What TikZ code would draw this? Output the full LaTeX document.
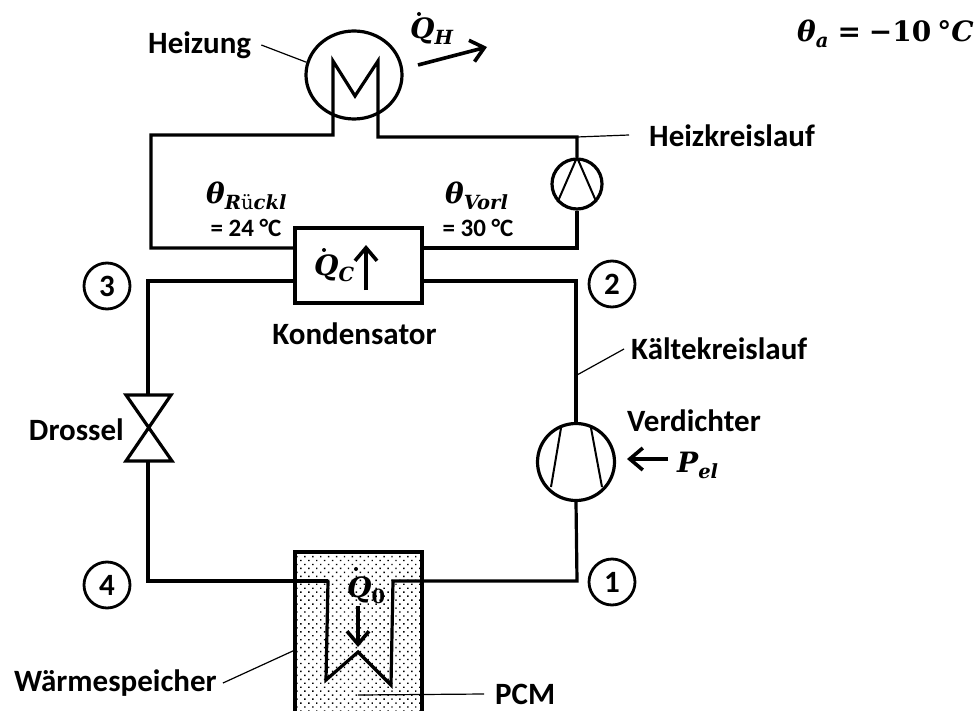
\documentclass[tikz,border=0pt]{standalone}
\usepackage{fontspec}
\setmainfont{Carlito}
\newfontfamily\mathfont{DejaVu Serif}
\usetikzlibrary{patterns.meta,arrows.meta,shapes.geometric}
\tikzset{
    pipe/.style={line width=3.2pt},
    leader/.style={line width=1.2pt},
    label/.style={font=\fontsize{31}{33}\selectfont\bfseries, inner sep=0pt},
    smalllabel/.style={font=\fontsize{25}{27}\selectfont\bfseries, inner sep=0pt},
    symbol/.style={font=\fontsize{28}{30}\selectfont\mathfont\bfseries\itshape, inner sep=0pt},
    statept/.style={circle, draw, line width=2.8pt, minimum size=46pt, inner sep=0pt, font=\fontsize{31}{33}\selectfont\bfseries},
    flow/.style={line width=3.6pt, -{Straight Barb[length=13pt,width=22pt,line width=3.6pt]}},
    dotmark/.style={fill=black}
}
\newcommand{\subtxt}[1]{\raisebox{-6pt}{\fontsize{19.5}{22}\selectfont #1}}
\begin{document}
\begin{tikzpicture}[x=1pt,y=-1pt]

    \useasboundingbox (0,0) rectangle (976,711);

    % speicher
    \path[pattern={Dots[radius=1pt,distance=5.6pt,angle=45]}] (295,552) rectangle (422,711);
    \coordinate (storeBL) at (295,711);
    \coordinate (storeBR) at (422,711);
    \draw[line width=4pt] (storeBL) |- (358,552) -| (storeBR);

    % nodes
    \node[ellipse, draw, pipe, minimum width=96pt, minimum height=88pt, inner sep=0pt] (heater) at (354,75) {};
    \node[circle, draw, pipe, minimum size=50pt, inner sep=0pt] (pump) at (577,184) {};
    \node[circle, draw, pipe, minimum size=77pt, inner sep=0pt] (compressor) at (576,462) {};
    \node[rectangle, draw, pipe, minimum width=127pt, minimum height=75pt, inner sep=0pt] (condenser) at (358.5,265.5) {};

    \coordinate (valveNW) at (126,395);
    \coordinate (valveNE) at (171,395);
    \coordinate (valveSW) at (126,461);
    \coordinate (valveSE) at (172,461);
    \coordinate (valveT) at (148,395);
    \coordinate (valveB) at (148,461);
    \draw[pipe, line join=miter] (valveNW) -- (valveNE) -- (valveSW) -- (valveSE) -- cycle;

    % heizkreis
    \coordinate (hotL) at (333,135);
    \coordinate (hotR) at (378,137);
    \coordinate (hotA) at (333,61);
    \coordinate (hotB) at (355,96);
    \coordinate (hotC) at (378,61);
    \coordinate (hotLL) at (151,135);
    \coordinate (condHL) at (295,248);
    \coordinate (condHR) at (422,248);
    \draw[pipe, line join=miter] (condHL) -| (hotLL) -- (hotL) -- (hotA) -- (hotB) -- (hotC) -- (hotR) -| (pump.north);
    \draw[pipe] (pump.south) |- (condHR);
    \draw[line width=2pt] (pump.223) -- (pump.north) -- (pump.317);

    % kaeltekreis
    \coordinate (condCL) at (295,281);
    \coordinate (condCR) at (422,281);
    \coordinate (coldL) at (328,581);
    \coordinate (coldA) at (326,680);
    \coordinate (coldB) at (358,652);
    \coordinate (coldC) at (391,685);
    \coordinate (coldR) at (393,581);
    \draw[pipe] (condCL) -| (valveT);
    \draw[pipe] (valveB) |- (coldL);
    \draw[pipe, line join=miter] (coldL) -- (coldA) -- (coldB) -- (coldC) -- (coldR) -- (577,581) -- (compressor.south);
    \draw[pipe] (condCR) -| (compressor.north);

    \draw[line width=2pt] (561,428) -- (551,487);
    \draw[line width=2pt] (591,428) -- (602,487);

    % texts
    \node[label, anchor=west] (heizung) at (148,45) {Heizung};
    \node[label, anchor=west] (heizkreis) at (649,136) {Heizkreislauf};
    \node[label, anchor=center] (kondensator) at (354.5,334) {Kondensator};
    \node[label, anchor=west] (kaelte) at (631,349) {Kältekreislauf};
    \node[label, anchor=west] (verdichter) at (627,421) {Verdichter};
    \node[label, anchor=east] (drossel) at (124,430) {Drossel};
    \node[label, anchor=west] (speicher) at (14,683) {Wärmespeicher};
    \node[label, anchor=west] (pcm) at (495,694) {PCM};

    \node[smalllabel] (ruecklauf) at (246,228) {= 24 °C};
    \node[smalllabel] (vorlauf) at (478,228) {= 30 °C};

    \node[symbol, anchor=base west] (thetaR) at (206,204) {θ\subtxt{R{\normalfont\mathfont ü}ckl}};
    \node[symbol, anchor=base west] (thetaV) at (445,204) {θ\subtxt{Vorl}};
    \node[symbol, anchor=base west] (thetaA) at (797,42) {θ\subtxt{a}\kern9pt=\kern8pt−{\upshape 10\kern6pt°}C};
    \node[symbol, anchor=base west] (qH) at (410,39) {Q\subtxt{H}};
    \node[symbol, anchor=base west] (qC) at (314,275) {Q\subtxt{C}};
    \node[symbol, anchor=base west] (q0) at (347,597) {Q\subtxt{\upshape 0}};
    \node[symbol, anchor=base west] (pel) at (677,472) {P\subtxt{el}};

    \fill[dotmark] (419,14) circle (2pt);
    \fill[dotmark] (324,250) circle (2pt);
    \fill[dotmark] (356,569) circle (2pt);

    \node[statept] (state3) at (107,286) {3};
    \node[statept] (state2) at (612,284) {2};
    \node[statept] (state1) at (612,582) {1};
    \node[statept] (state4) at (107,585) {4};

    % leader lines
    \draw[leader] ([xshift=10pt]heizung.east) -- (heater.165);
    \draw[leader] (hotR -| pump.north) -- ([xshift=-20pt,yshift=1pt]heizkreis.west);
    \draw[leader] (577,375) -- ([xshift=-7pt]kaelte.west);
    \draw[leader] ([xshift=6pt]speicher.east) -- (295,650);
    \draw[leader] (358,695) -- ([xshift=-11pt]pcm.west);

    % arrows
    \draw[flow] (418,65) -- (487,47);
    \draw[flow] (366,290) -- (366,245);
    \draw[flow] (358,606) -- (358,647);
    \draw[flow] (668,459) -- (627,459);

\end{tikzpicture}
\end{document}
